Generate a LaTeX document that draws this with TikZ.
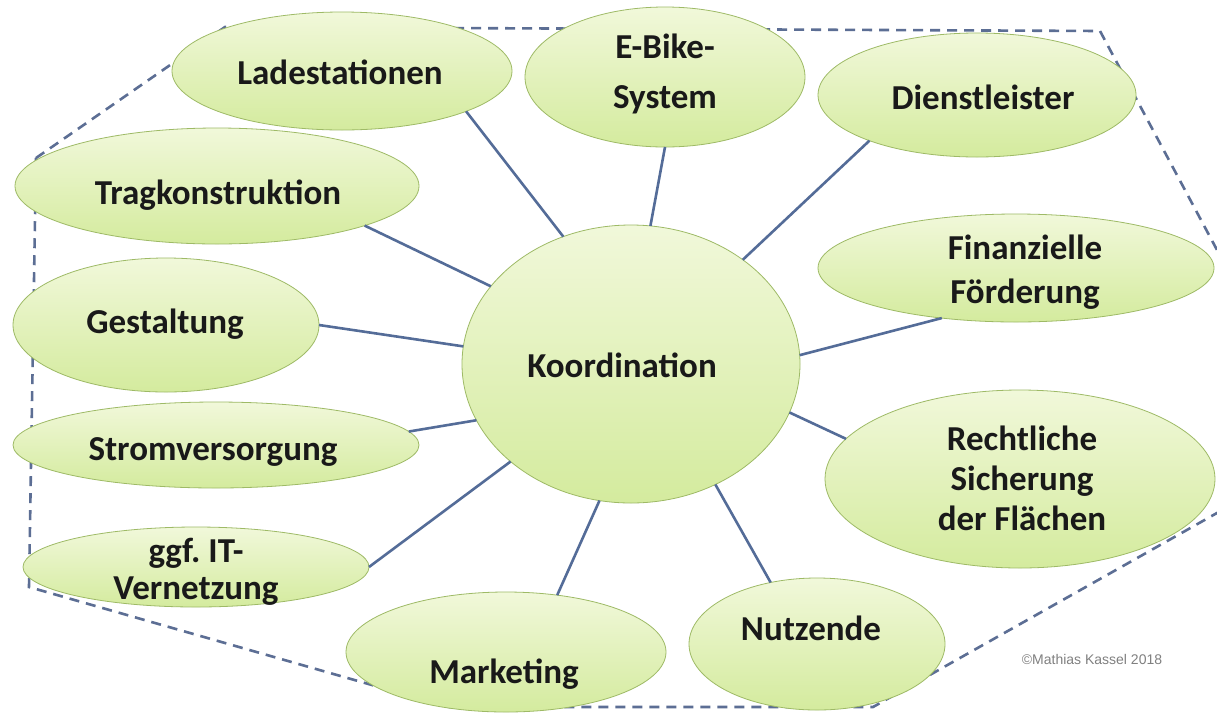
\documentclass[tikz,border=0pt]{standalone}
\usepackage{fontspec}
\setmainfont{Carlito}
\newfontfamily\arialfont{Liberation Sans}
\usetikzlibrary{shapes.geometric}
\definecolor{bubtop}{RGB}{241,248,218}
\definecolor{bubbot}{RGB}{212,235,158}
\definecolor{bubline}{RGB}{158,186,102}
\definecolor{linkc}{RGB}{84,108,152}
\definecolor{dashc}{RGB}{92,110,148}
\tikzset{
  bubble/.style={ellipse, draw=bubline, line width=0.8pt, top color=bubtop, bottom color=bubbot, inner sep=0pt, outer sep=0pt},
  lbl/.style={font=\bfseries\fontsize{35}{42}\selectfont, text=black!90, align=center, inner sep=0pt},
  link/.style={draw=linkc, line width=2.6pt},
  hull/.style={draw=dashc, line width=2.6pt, dash pattern=on 10pt off 7pt}
}
\frenchspacing
\begin{document}
\begin{tikzpicture}[x=1pt,y=-1pt]
\useasboundingbox (0,0) rectangle (1217,713);
\fill[white] (0,0) rectangle (1217,713);
\clip (0,0) rectangle (1217,713);
% dashed outline
\draw[hull] (36,158) -- (225,27) -- (1100,31) -- (1240,293) -- (1240,500) -- (873,707) -- (449,707) -- (29,587) -- cycle;
% bubbles
\node[bubble, minimum width=340pt, minimum height=118pt] (lade) at (342,71) {};
\node[bubble, minimum width=280pt, minimum height=140pt] (ebike) at (665,77) {};
\node[bubble, minimum width=318pt, minimum height=124pt] (dienst) at (977,95) {};
\node[bubble, minimum width=404pt, minimum height=116pt] (trag) at (217,186) {};
\node[bubble, minimum width=396pt, minimum height=108pt] (finanz) at (1016,268) {};
\node[bubble, minimum width=306pt, minimum height=134pt] (gestalt) at (166,325) {};
\node[bubble, minimum width=338pt, minimum height=278pt] (koord) at (631,364) {};
\node[bubble, minimum width=406pt, minimum height=86pt] (strom) at (216,445) {};
\node[bubble, minimum width=390pt, minimum height=178pt] (recht) at (1020,479) {};
\node[bubble, minimum width=346pt, minimum height=80pt] (it) at (196,567) {};
\node[bubble, minimum width=320pt, minimum height=120pt] (market) at (506,652) {};
\node[bubble, minimum width=256pt, minimum height=132pt] (nutz) at (817,644) {};
% labels
\node[lbl] (tlade) at (340,72) {Ladestationen};
\node[lbl, font=\bfseries\fontsize{35}{50}\selectfont] (tebike) at (665,74) {E-Bike-\\System};
\node[lbl] (tdienst) at (983,97) {Dienstleister};
\node[lbl] (ttrag) at (218,195) {Tragkonstruktion};
\node[lbl, font=\bfseries\fontsize{35}{44}\selectfont] (tfinanz) at (1025,272) {Finanzielle\\Förderung};
\node[lbl] (tgestalt) at (165,324) {Gestaltung};
\node[lbl] (tkoord) at (622,365) {Koordination};
\node[lbl] (tstrom) at (213,452) {Stromversorgung};
\node[lbl, font=\bfseries\fontsize{35}{40}\selectfont] (trecht) at (1022,478) {Rechtliche\\Sicherung\\der Flächen};
\node[lbl, font=\bfseries\fontsize{35}{37}\selectfont] (tit) at (196,572) {ggf. IT-\\Vernetzung};
\node[lbl] (tmarket) at (504,674) {Marketing};
\node[lbl] (tnutz) at (811,628) {Nutzende};
% connectors
\draw[link] (lade.-18) -- (koord.118);
\draw[link] (ebike.-90) -- (koord.82);
\draw[link] (dienst.203) -- (koord.43);
\draw[link] (trag.-15) -- (koord.151);
\draw[link] (gestalt.0) -- (koord.174);
\draw[link] (strom.4) -- (koord.200);
\draw[link] (it.0) -- (koord.219);
\draw[link] (market.48) -- (koord.257);
\draw[link] (nutz.127) -- (koord.-55);
\draw[link] (recht.167) -- (koord.-17);
\draw[link] (finanz.214) -- (koord.3);
% copyright
\node[font=\arialfont\fontsize{14}{16}\selectfont, text=black!50, inner sep=0pt] (copy) at (1092,659) {©Mathias Kassel 2018};
\end{tikzpicture}
\end{document}
